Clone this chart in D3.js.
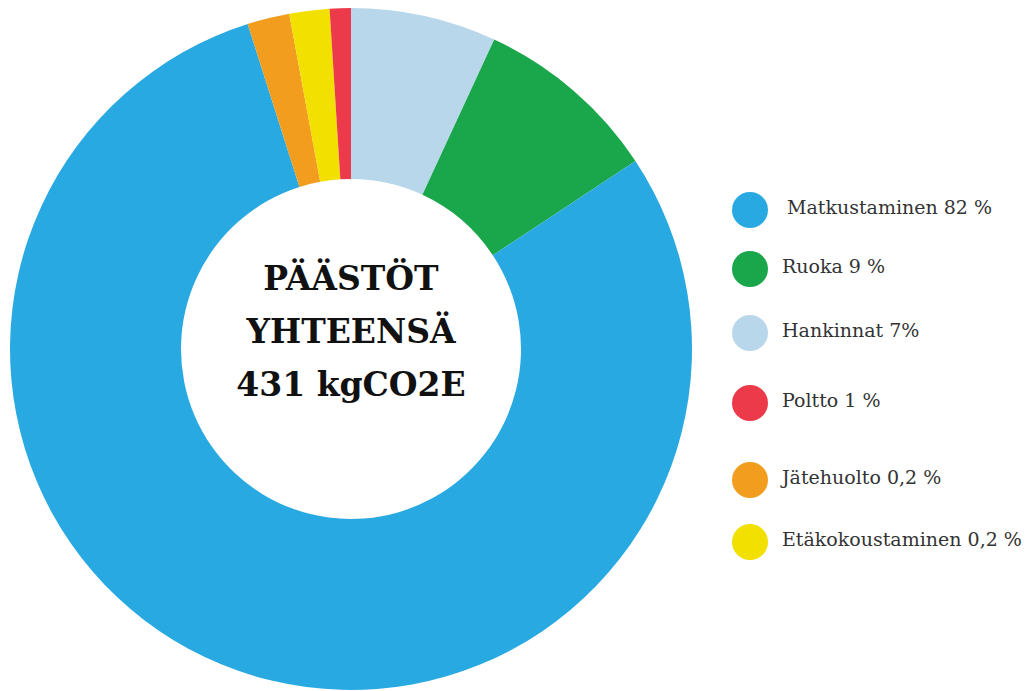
<!DOCTYPE html>
<html>
<head>
<meta charset="utf-8">
<script src="https://cdn.jsdelivr.net/npm/d3@7"></script>
<style>
    html, body { margin: 0; padding: 0; background: #fff; }
    svg { display: block; }
</style>
</head>
<body>
<svg id="chart"></svg>
<script>
"use strict";

const width = 1029;
const height = 691;

// slices, clockwise from 12 o'clock (shares)
const sliceNames = ["Hankinnat", "Ruoka", "Matkustaminen", "Jätehuolto", "Etäkokoustaminen", "Poltto"];
const sliceValues = [6.9, 8.8, 79.4, 2.0, 1.9, 1.0];
const sliceColors = ["#b9d7ea", "#1aa64b", "#29a9e1", "#f29d1e", "#f2e000", "#ec3a4a"];

// legend entries, top to bottom
const legendNames = ["Matkustaminen", "Ruoka", "Hankinnat", "Poltto", "Jätehuolto", "Etäkokoustaminen"];
const legendLabels = ["Matkustaminen 82 %", "Ruoka 9 %", "Hankinnat 7%", "Poltto 1 %", "Jätehuolto 0,2 %", "Etäkokoustaminen 0,2 %"];

// center text
const centerLines = ["PÄÄSTÖT", "YHTEENSÄ", "431 kgCO2E"];

// layout
const cx = 351, cy = 349;
const outerR = 341, innerR = 170;
const legendX = 750;
const legendY = [210, 269, 333, 403, 480, 542];

const svg = d3.select("#chart")
    .attr("width", width)
    .attr("height", height);

const color = d3.scaleOrdinal().domain(sliceNames).range(sliceColors);

const pie = d3.pie().sort(null).value(d => d.value);
const arc = d3.arc().innerRadius(innerR).outerRadius(outerR);

const data = sliceNames.map((n, i) => ({ name: n, value: sliceValues[i] }));

const donut = svg.append("g")
    .attr("transform", `translate(${cx}, ${cy})`);

donut.selectAll("path")
    .data(pie(data))
    .enter()
    .append("path")
        .attr("d", arc)
        .attr("fill", d => color(d.data.name));

donut.selectAll("text")
    .data(centerLines)
    .enter()
    .append("text")
        .attr("x", 0)
        .attr("y", (d, i) => -59 + i * 53)
        .attr("text-anchor", "middle")
        .style("font-family", "'DejaVu Serif', serif")
        .style("font-size", "33px")
        .style("font-weight", "bold")
        .style("fill", "#111")
        .text(d => d);

const legend = svg.append("g");

const items = legend.selectAll("g")
    .data(legendNames)
    .enter()
    .append("g")
        .attr("transform", (d, i) => `translate(${legendX}, ${legendY[i]})`);

items.append("circle")
    .attr("r", 18)
    .attr("fill", d => color(d));

items.append("text")
    .attr("x", (d, i) => i === 0 ? 37 : 32)
    .attr("y", 4)
    .style("font-family", "'DejaVu Serif', serif")
    .style("font-size", "19px")
    .style("fill", "#333")
    .text((d, i) => legendLabels[i]);
</script>
</body>
</html>
